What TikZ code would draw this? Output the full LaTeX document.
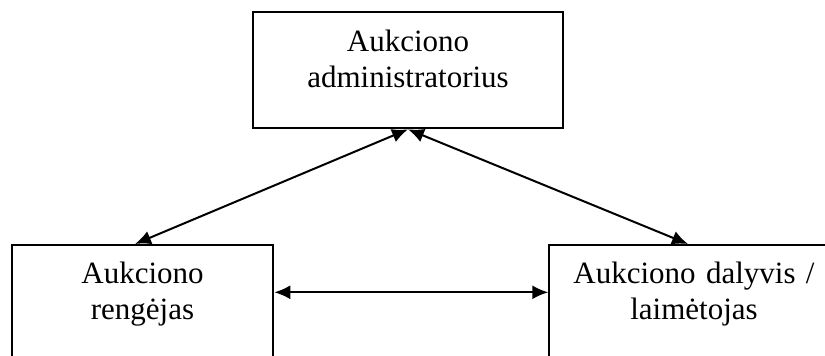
\documentclass[tikz,border=0pt]{standalone}
\usepackage{fontspec}
\setmainfont{Liberation Serif}
\usetikzlibrary{arrows.meta}

\begin{document}
\begin{tikzpicture}[x=1pt, y=-1pt, line width=2pt,
    every node/.style={draw, rectangle, inner sep=0pt, align=center, anchor=base, font={\fontsize{31}{36}\selectfont}},
    link/.style={{Latex[length=16pt,width=14pt]}-{Latex[length=16pt,width=14pt]}}]
    \useasboundingbox (0,0) rectangle (825,356);
    \clip (0,0) rectangle (825,356);
    \node[text width=309.4pt, text height=39.3pt, text depth=77.3pt] (admin) at (408,51) {Aukciono\\administratorius};
    \node[text width=261.6pt, text height=38.3pt, text depth=78.3pt] (rengejas) at (142.5,283.3) {Aukciono\\rengėjas};
    \node[text width=289.4pt, text height=38.3pt, text depth=78.3pt] (dalyvis) at (694,283.3) {Aukciono dalyvis /\\laimėtojas};
    \draw[link] (admin.south) -- ([xshift=-7.5pt]rengejas.north);
    \draw[link] (admin.south) -- ([xshift=-6pt]dalyvis.north);
    \draw[link] (rengejas.east |- 0,292.3) -- (dalyvis.west |- 0,292.3);
\end{tikzpicture}
\end{document}
